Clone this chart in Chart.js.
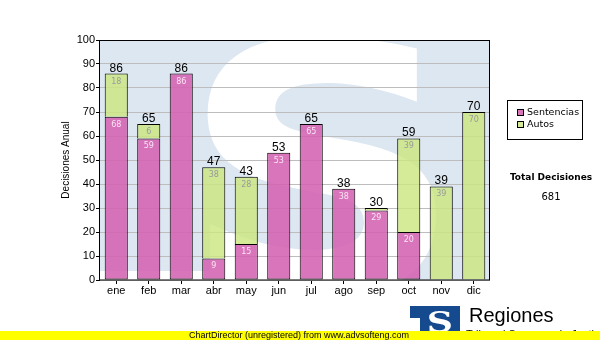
<!DOCTYPE html>
<html lang="es">
<head>
  <meta charset="UTF-8">
  <title>Decisiones Anual</title>
  <script src="https://cdn.jsdelivr.net/npm/chart.js"></script>
  <style>
    html, body { margin:0; padding:0; background:#fff; }
    #caja { width:600px; height:340px; }
  </style>
</head>
<body>
  <div id="caja"><canvas id="decisiones" width="600" height="340"></canvas></div>

  <script>
    const meses = ['ene','feb','mar','abr','may','jun','jul','ago','sep','oct','nov','dic'];
    const sentencias = [68, 59, 86, 9, 15, 53, 65, 38, 29, 20, 0, 0];
    const autos      = [18, 6, 0, 38, 28, 0, 0, 0, 1, 39, 39, 70];
    const series     = ['Sentencias', 'Autos'];
    const yMin = 0, yMax = 100, yPaso = 10;

    const colores    = ['rgba(212,98,178,0.88)', 'rgba(204,230,128,0.82)'];
    const colorTexto = ['#fbe4f4', '#9a9a9a'];

    Chart.defaults.font.family = '"Liberation Sans", Arial, sans-serif';
    Chart.defaults.color = '#000';

    // fondo azul claro con la "S" blanca detras de las barras
    const fondo = {
      id: 'fondo',
      beforeDraw(chart) {
        const { ctx, chartArea: a } = chart;
        ctx.save();
        ctx.fillStyle = '#dde7f1';
        ctx.fillRect(a.left, a.top, a.right - a.left, a.bottom - a.top);
        ctx.beginPath();
        ctx.rect(a.left, a.top, a.right - a.left, a.bottom - a.top);
        ctx.clip();
        ctx.fillStyle = '#fff';
        ctx.fillRect(a.left, a.bottom - 9, 130, 9);
        ctx.font = 'bold 345px "DejaVu Sans"';
        ctx.textAlign = 'center';
        ctx.textBaseline = 'alphabetic';
        ctx.translate(322, 292);
        ctx.scale(1.15, 1);
        ctx.fillText('S', 0, 0);
        ctx.restore();
      }
    };

    // valores dentro de cada tramo y total encima de la barra
    const etiquetas = {
      id: 'etiquetas',
      afterDatasetsDraw(chart) {
        const { ctx } = chart;
        ctx.save();
        ctx.textAlign = 'center';
        ctx.textBaseline = 'top';
        ctx.font = '8px "DejaVu Sans"';
        chart.data.datasets.forEach((ds, d) => {
          chart.getDatasetMeta(d).data.forEach((bar, i) => {
            const v = ds.data[i];
            if (!v || v < 2) return;
            ctx.fillStyle = colorTexto[d];
            ctx.fillText(v, bar.x, bar.y + 4);
          });
        });
        const x = chart.scales.x, y = chart.scales.y;
        ctx.font = '12px "Liberation Sans"';
        ctx.textBaseline = 'alphabetic';
        ctx.fillStyle = '#000';
        meses.forEach((m, i) => {
          const total = sentencias[i] + autos[i];
          ctx.fillText(total, x.getPixelForValue(i), y.getPixelForValue(total) - 2);
        });
        ctx.restore();
      }
    };

    // marco, leyenda, total anual, logo y pie
    const extras = {
      id: 'extras',
      afterDraw(chart) {
        const { ctx, chartArea: a } = chart;
        ctx.save();
        ctx.strokeStyle = '#000';
        ctx.lineWidth = 1;
        ctx.strokeRect(Math.round(a.left) - 0.5, Math.round(a.top) + 0.5,
                       Math.round(a.right - a.left), Math.round(a.bottom - a.top) - 0.5);

        // leyenda
        ctx.fillStyle = '#fff';
        ctx.fillRect(507.5, 100.5, 75, 39);
        ctx.strokeRect(507.5, 100.5, 75, 39);
        ctx.font = '9.5px "DejaVu Sans"';
        ctx.textAlign = 'left';
        ctx.textBaseline = 'middle';
        series.forEach((s, i) => {
          const yy = 113 + i * 12;
          ctx.fillStyle = colores[i];
          ctx.fillRect(517.5, yy - 3.5, 6, 6);
          ctx.strokeRect(517.5, yy - 3.5, 6, 6);
          ctx.fillStyle = '#000';
          ctx.fillText(s, 527, yy);
        });

        // total
        const total = sentencias.concat(autos).reduce((s, v) => s + v, 0);
        ctx.textAlign = 'center';
        ctx.font = 'bold 9px "DejaVu Sans"';
        ctx.fillText('Total Decisiones', 551, 178);
        ctx.font = '10px "DejaVu Sans"';
        ctx.fillText(total, 551, 197);

        // logo
        ctx.fillStyle = '#154b8e';
        ctx.fillRect(410, 306, 50, 12);
        ctx.fillRect(420, 306, 40, 25);
        ctx.save();
        ctx.fillStyle = '#fff';
        ctx.font = 'bold 28px "DejaVu Serif"';
        ctx.textBaseline = 'alphabetic';
        ctx.translate(440, 332);
        ctx.scale(1.3, 1);
        ctx.fillText('S', 0, 0);
        ctx.restore();
        ctx.fillStyle = '#000';
        ctx.textAlign = 'left';
        ctx.textBaseline = 'alphabetic';
        ctx.font = '20px "Liberation Sans"';
        ctx.fillText('Regiones', 469, 322);
        ctx.font = '11px "Liberation Sans"';
        ctx.fillText('Tribunal Supremo de Justicia', 466, 337.5);

        // pie amarillo
        ctx.fillStyle = '#ffff00';
        ctx.fillRect(0, 331, 600, 9);
        ctx.fillStyle = '#000';
        ctx.textAlign = 'center';
        ctx.font = '9px "Liberation Sans"';
        ctx.fillText('ChartDirector (unregistered) from www.advsofteng.com', 299, 338);
        ctx.restore();
      }
    };

    const ctx = document.getElementById('decisiones').getContext('2d');
    new Chart(ctx, {
      type: 'bar',
      data: {
        labels: meses,
        datasets: [sentencias, autos].map((vals, d) => ({
          label: series[d],
          data: vals.map(v => v === 0 ? null : v),
          backgroundColor: colores[d],
          borderColor: '#000',
          borderWidth: 1,
          borderSkipped: d === 0 ? false : 'start',
          inflateAmount: 0,
          barPercentage: 0.71,
          categoryPercentage: 1
        }))
      },
      options: {
        responsive: false,
        animation: false,
        devicePixelRatio: 1,
        layout: { padding: { left: 55, right: 110, top: 40, bottom: 0 } },
        plugins: { legend: { display: false }, tooltip: { enabled: false } },
        scales: {
          x: {
            stacked: true,
            afterFit: s => { s.height = 60; },
            grid: { offset: false, drawOnChartArea: false, tickLength: 4, tickColor: '#000' },
            border: { display: false },
            ticks: { padding: 0, font: { size: 11 }, color: '#000' }
          },
          y: {
            stacked: true,
            min: yMin, max: yMax,
            afterFit: s => { s.width = 45; },
            grid: { color: '#bdbdbd', tickLength: 4, tickColor: '#000' },
            border: { display: false },
            ticks: { stepSize: yPaso, padding: 1, font: { size: 11 }, color: '#000' },
            title: { display: true, text: 'Decisiones Anual', font: { size: 10 }, padding: { top: 5, bottom: 0 } }
          }
        }
      },
      plugins: [fondo, etiquetas, extras]
    });
  </script>
</body>
</html>
